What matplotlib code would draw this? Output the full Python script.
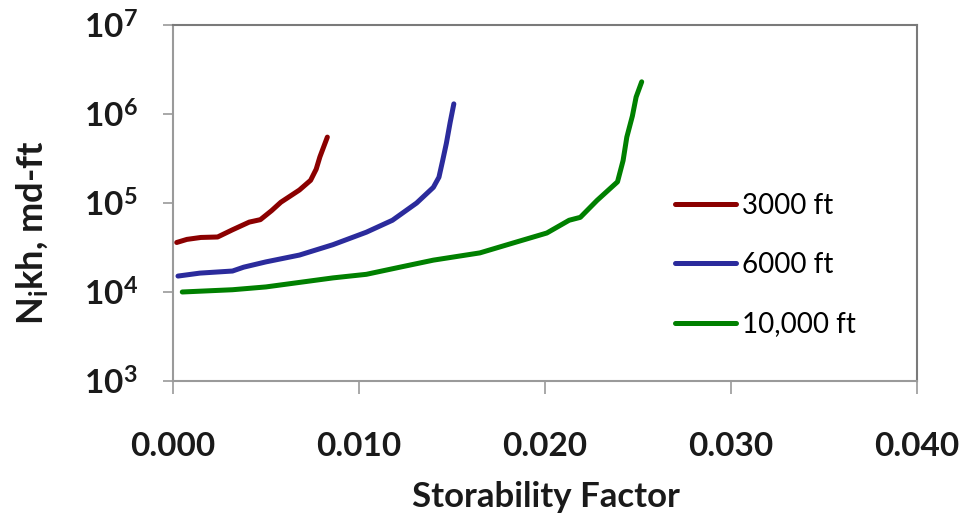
import matplotlib
matplotlib.use("Agg")
import matplotlib.pyplot as plt

plt.rcParams['font.family'] = ['Lato', 'DejaVu Sans']
plt.rcParams['mathtext.fontset'] = 'custom'
plt.rcParams['mathtext.rm'] = 'Lato'
plt.rcParams['mathtext.it'] = 'Lato:italic'
plt.rcParams['mathtext.bf'] = 'Lato:bold'

# ---- data
x_3000 = [0.0002, 0.00075, 0.0015, 0.0024, 0.0032, 0.0041, 0.0047, 0.0053, 0.0058, 0.0068,
          0.0074, 0.0077, 0.0079, 0.0083]
y_3000 = [3.6e4, 3.9e4, 4.1e4, 4.15e4, 5.0e4, 6.1e4, 6.5e4, 8.2e4, 1.02e5, 1.4e5,
          1.8e5, 2.4e5, 3.3e5, 5.5e5]

x_6000 = [0.00027, 0.00145, 0.0032, 0.0038, 0.0050, 0.0068, 0.0086, 0.0104, 0.0118,
          0.0131, 0.0140, 0.0143, 0.0145, 0.0147, 0.0149, 0.0151]
y_6000 = [1.51e4, 1.63e4, 1.72e4, 1.9e4, 2.18e4, 2.6e4, 3.4e4, 4.7e4, 6.4e4,
          1.0e5, 1.5e5, 1.95e5, 3.0e5, 4.7e5, 8.0e5, 1.3e6]

x_10000 = [0.0005, 0.0032, 0.0050, 0.0086, 0.0104, 0.0122, 0.0140, 0.0165, 0.0183,
           0.0201, 0.0213, 0.0219, 0.0228, 0.0239, 0.0242, 0.0244, 0.0247, 0.0249, 0.0252]
y_10000 = [1.0e4, 1.06e4, 1.14e4, 1.44e4, 1.58e4, 1.9e4, 2.28e4, 2.75e4, 3.56e4,
           4.6e4, 6.4e4, 6.9e4, 1.07e5, 1.73e5, 3.0e5, 5.5e5, 9.5e5, 1.55e6, 2.3e6]

labels = ['3000 ft', '6000 ft', '10,000 ft']
colors = ['#8b0000', '#2b2b9c', '#008000']
x_ticks = [0.000, 0.010, 0.020, 0.030, 0.040]

fig = plt.figure(figsize=(9.62, 5.17), dpi=100)
ax = fig.add_axes([0.1798, 0.2631, 0.7734, 0.6885])

for xs, ys, lab, c in zip([x_3000, x_6000, x_10000], [y_3000, y_6000, y_10000], labels, colors):
    ax.plot(xs, ys, color=c, lw=3.6, label=lab, solid_capstyle='round')

ax.set_yscale('log')
ax.set_ylim(1e3, 1e7)
ax.set_xlim(0, 0.040)
ax.set_xticks(x_ticks)
ax.set_xticklabels(['%.3f' % v for v in x_ticks])
ax.minorticks_off()

for s in ['left', 'bottom']:
    ax.spines[s].set_color('#9a9a9a')
    ax.spines[s].set_linewidth(1.5)
for s in ['top', 'right']:
    ax.spines[s].set_color('#7a7a7a')
    ax.spines[s].set_linewidth(1.5)

ax.tick_params(axis='y', direction='out', length=7.5, width=1.2, color='#9a9a9a',
               pad=18, labelsize=24)
ax.tick_params(axis='x', direction='out', length=9, width=1.2, color='#9a9a9a',
               pad=28, labelsize=24)
for t in ax.get_xticklabels() + ax.get_yticklabels():
    t.set_fontweight('bold')
    t.set_color('#1a1a1a')

fig.text(0.568, 0.039, 'Storability Factor', ha='center', va='center',
         fontsize=25, fontweight='bold', color='#1a1a1a')
fig.text(0.034, 0.551, r'N$_\mathregular{i}$kh, md-ft', ha='center', va='center',
         rotation=90, fontsize=26, fontweight='bold', color='#1a1a1a')

ax.legend(loc='upper left', bbox_to_anchor=(0.66, 0.56), frameon=False,
          fontsize=20, handlelength=2.2, handletextpad=0.2, labelspacing=1.2,
          borderaxespad=0)

fig.savefig('out.png', dpi=100)
